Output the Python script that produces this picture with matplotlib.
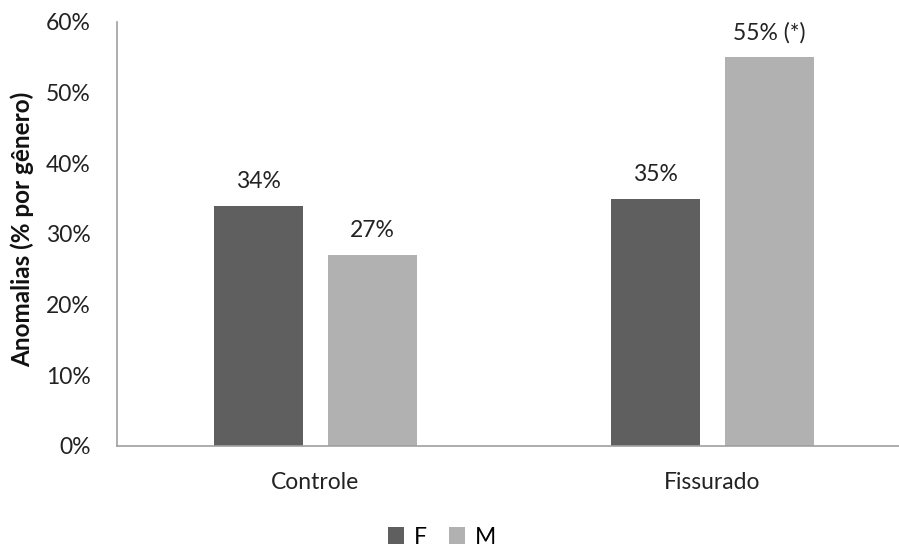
import matplotlib
matplotlib.use("Agg")
import matplotlib.pyplot as plt
import numpy as np

categories = ["Controle", "Fissurado"]
series_names = ["F", "M"]
values_f = [34, 35]
values_m = [27, 55]
labels_f = ["34%", "35%"]
labels_m = ["27%", "55% (*)"]
y_ticks = [0, 10, 20, 30, 40, 50, 60]

plt.rcParams["font.family"] = ["Lato", "DejaVu Sans"]

fig = plt.figure(figsize=(8.99, 5.48), dpi=100)
# axis runs past the right edge like the original
ax = fig.add_axes([117 / 899, 1 - 446 / 548, 794 / 899, 424 / 548])

x = np.arange(len(categories))
w = 0.224
off = 0.143
col_f = "#5f5f5f"
col_m = "#b1b1b1"
bf = ax.bar(x - off, values_f, w, color=col_f, label=series_names[0])
bm = ax.bar(x + off, values_m, w, color=col_m, label=series_names[1])

fs = 16.5
for rects, labs in ((bf, labels_f), (bm, labels_m)):
    for r, lab in zip(rects, labs):
        ax.annotate(lab, (r.get_x() + r.get_width() / 2, r.get_height()),
                    xytext=(0, 10), textcoords="offset points",
                    ha="center", va="bottom", fontsize=fs, color="#222222")

ax.set_xlim(-0.5, 1.5)
ax.set_ylim(0, 60)
ax.set_yticks(y_ticks)
ax.set_yticklabels([f"{t}%" for t in y_ticks], fontsize=fs, color="#222222")
ax.set_xticks(x)
ax.set_xticklabels(categories, fontsize=fs, color="#222222")
ax.tick_params(axis="both", length=0)
ax.tick_params(axis="y", pad=19)
ax.tick_params(axis="x", pad=19)

for s in ("top", "right"):
    ax.spines[s].set_visible(False)
for s in ("left", "bottom"):
    ax.spines[s].set_color("#a0a0a0")
    ax.spines[s].set_linewidth(1.2)

ax.set_ylabel("Anomalias (% por gênero)", fontsize=17.5, fontweight="bold",
              color="#111111")
ax.yaxis.set_label_coords(-83 / 794, 0.51)

fig.legend(handles=[bf, bm], labels=series_names, loc="center",
           bbox_to_anchor=(442 / 899, 1 - 537 / 548), ncol=2, frameon=False,
           fontsize=fs, handlelength=0.7, handleheight=0.7,
           handletextpad=0.4, columnspacing=1.0)

fig.savefig("out.png", dpi=100)
